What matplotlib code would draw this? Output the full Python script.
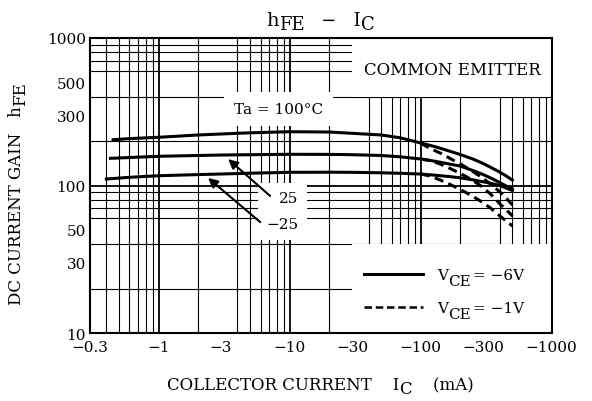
import matplotlib
matplotlib.use("Agg")
import matplotlib.pyplot as plt
from matplotlib.patches import Rectangle
from matplotlib.ticker import FixedLocator, LogLocator, NullFormatter

plt.rcParams["font.family"] = ["DejaVu Serif"]
plt.rcParams["mathtext.fontset"] = "dejavuserif"

# VCE = -6 V (solid), hFE vs -IC (mA)
ic = [0.6, 1, 2, 3, 5, 10, 20, 30, 50, 70, 100, 130, 170, 200, 250, 300, 350, 400, 450, 500]
hfe_100 = [208, 212.3, 220.1, 223.5, 227.7, 231.6, 230.5, 225.9, 220.1, 210.6,
           194.2, 183.0, 170.0, 162.3, 151.3, 141.0, 131.4, 123.5, 116.0, 109.0]
hfe_25 = [154.8, 157.8, 159.8, 161.0, 161.8, 162.8, 162.6, 161.8, 159.8, 156.5,
          151.3, 145.9, 139.2, 135.6, 126.4, 118.7, 111.5, 104.8, 99.2, 94.7]
hfe_m25 = [113.7, 116.5, 118.6, 119.7, 121.2, 122.9, 123.1, 122.9, 122.0, 121.0,
           119.7, 117.4, 114.7, 112.8, 109.3, 106.0, 103.2, 100.0, 96.2, 92.5]
# lowest-current start of each curve
start_ic = [0.45, 0.43, 0.40]
start_hfe = [204.4, 152.9, 110.7]

# VCE = -1 V (dashed), only differs at high current
ic_1v = [100, 118, 141, 168, 201, 240, 286, 341, 407, 452, 502]
hfe_100_1v = [194.2, 178.2, 166.1, 152.5, 139.9, 127.4, 115.1, 102.4, 89.6, 81.6, 73.8]
hfe_25_1v = [151.3, 147.7, 139.9, 130.4, 120.6, 110.7, 100.0, 87.6, 74.3, 68.2, 62.1]
hfe_m25_1v = [119.7, 116.0, 109.0, 101.6, 94.0, 86.2, 78.5, 70.4, 61.6, 57.4, 53.1]

x_ticks = [0.3, 1, 3, 10, 30, 100, 300, 1000]
x_labels = ["\u22120.3", "\u22121", "\u22123", "\u221210", "\u221230",
            "\u2212100", "\u2212300", "\u22121000"]
y_ticks = [10, 30, 50, 100, 300, 500, 1000]
y_labels = ["10", "30", "50", "100", "300", "500", "1000"]

fig = plt.figure(figsize=(5.92, 4.02), dpi=100)
ax = fig.add_axes([0.152, 0.169, 0.780, 0.734])
ax.set_xscale("log")
ax.set_yscale("log")
ax.set_xlim(0.3, 1000)
ax.set_ylim(10, 1000)

ax.xaxis.set_major_locator(FixedLocator(x_ticks))
ax.set_xticklabels(x_labels)
ax.yaxis.set_major_locator(FixedLocator(y_ticks))
ax.set_yticklabels(y_labels)
for axis in (ax.xaxis, ax.yaxis):
    axis.set_minor_locator(LogLocator(base=10, subs=range(1, 10), numticks=20))
    axis.set_minor_formatter(NullFormatter())
ax.tick_params(which="both", length=0, labelsize=11)
ax.tick_params(axis="x", pad=5)
ax.tick_params(axis="y", pad=3)
ax.set_axisbelow(True)
ax.grid(which="minor", color="black", lw=0.8)
ax.grid(which="major", visible=False)
for d in [1, 10, 100]:
    ax.axvline(d, color="black", lw=1.3, zorder=0.6)
ax.axhline(100, color="black", lw=1.3, zorder=0.6)
for s in ax.spines.values():
    s.set_linewidth(1.5)

# white panels that hide the grid
ax.add_patch(Rectangle((30, 400), 970, 600, facecolor="white", edgecolor="none", zorder=1))
ax.add_patch(Rectangle((30, 10), 970, 30, facecolor="white", edgecolor="none", zorder=1))

lw = 2.2
for x0, y0, vals in zip(start_ic, start_hfe, [hfe_100, hfe_25, hfe_m25]):
    ax.plot([x0] + ic, [y0] + vals, color="black", lw=lw, zorder=3, solid_joinstyle="round")
dash = (3, 1.8)
for vals in [hfe_100_1v, hfe_25_1v, hfe_m25_1v]:
    ax.plot(ic_1v, vals, color="black", lw=lw, dashes=dash, zorder=3)


def chain(first, pieces, size, rotation=0):
    # place text pieces one after another, shifting subscripts down
    prev = first
    for s, dx, dy in pieces:
        if rotation:
            prev = ax.annotate(s, xy=(0, 1), xycoords=prev, xytext=(dx, dy),
                               textcoords="offset points", ha="left", va="bottom",
                               rotation=90, fontsize=size, annotation_clip=False, zorder=7)
        else:
            prev = ax.annotate(s, xy=(1, 0), xycoords=prev, xytext=(dx, dy),
                               textcoords="offset points", ha="left", va="bottom",
                               fontsize=size, annotation_clip=False, zorder=7)
    return prev


# legend
l1, = ax.plot([], [], color="black", lw=lw)
l2, = ax.plot([], [], color="black", lw=1.8, dashes=(3, 1.5))
leg = ax.legend([l1, l2], ["V", "V"], loc="upper left", bbox_to_anchor=(0.563, 0.266),
                frameon=False, fontsize=11, handlelength=3.9, handletextpad=0.9,
                labelspacing=1.25)
leg.set_zorder(6)
for t, v in zip(leg.get_texts(), ["\u22126V", "\u22121V"]):
    chain(t, [("CE", 0, -4), ("= " + v, 1.5, 4)], 11)

ax.text(174, 616, "COMMON EMITTER", ha="center", va="center", fontsize=12, zorder=4)
ax.text(8.2, 330, "Ta = 100\u00b0C", ha="center", va="center", fontsize=11, zorder=4,
        bbox=dict(facecolor="white", edgecolor="none", pad=7))
ax.text(11.7, 67, "25\n\u221225", ha="right", va="center", fontsize=11, zorder=4,
        linespacing=2.1, bbox=dict(facecolor="white", edgecolor="none", pad=6))
arrow = dict(arrowstyle="-|>", color="black", lw=1.5, mutation_scale=14, shrinkA=0, shrinkB=0)
ax.annotate("", xy=(3.4, 151), xytext=(7.1, 85), arrowprops=arrow, zorder=5)
ax.annotate("", xy=(2.39, 112.5), xytext=(5.97, 56.5), arrowprops=arrow, zorder=5)

# title and axis labels with large, lowered subscripts
t0 = fig.text(266 / 592, 1 - 26 / 402, "h", ha="left", va="baseline", fontsize=14)
chain(t0, [("FE", 0, -3), ("   \u2212   I", 0, 3), ("C", 0, -3)], 13)
x0 = fig.text(167 / 592, 1 - 390 / 402, "COLLECTOR CURRENT    I", ha="left", va="baseline", fontsize=12)
chain(x0, [("C", 0, -3), ("    (mA)", 0, 3)], 12)
y0 = fig.text(8 / 592, 1 - 305 / 402, "DC CURRENT GAIN   h", ha="left", va="bottom",
              rotation=90, fontsize=12)
chain(y0, [("FE", 3, 0)], 12, rotation=90)

fig.savefig("out.png", dpi=100, facecolor="white")
